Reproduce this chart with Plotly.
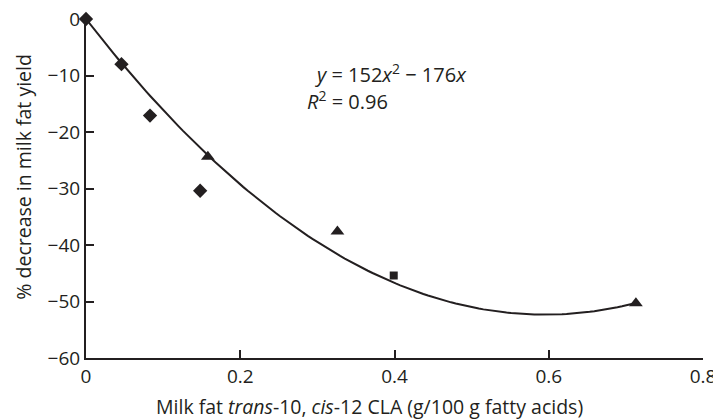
import numpy as np
import plotly.graph_objects as go

# points, grouped by marker
diamond_x = [0.0, 0.046, 0.083, 0.148]
diamond_y = [0.0, -8.0, -17.1, -30.4]
triangle_x = [0.158, 0.326, 0.713]
triangle_y = [-24.4, -37.6, -50.3]
square_x = [0.399]
square_y = [-45.4]

# quadratic trend through the origin, as drawn
trend_a = 148
trend_b = -176
trend_end = 0.713

ink = "#231f20"
font = "Open Sans"

xs = np.linspace(0, trend_end, 120)
ys = trend_a * xs ** 2 + trend_b * xs

fig = go.Figure()
fig.add_trace(go.Scatter(x=xs, y=ys, mode="lines",
                         line=dict(color=ink, width=2), hoverinfo="skip"))
fig.add_trace(go.Scatter(x=diamond_x, y=diamond_y, mode="markers",
                         marker=dict(symbol="diamond", size=11, color=ink), cliponaxis=False))
fig.add_trace(go.Scatter(x=triangle_x, y=triangle_y, mode="markers",
                         marker=dict(symbol="triangle-up", size=12, color=ink), cliponaxis=False))
fig.add_trace(go.Scatter(x=square_x, y=square_y, mode="markers",
                         marker=dict(symbol="square", size=8, color=ink), cliponaxis=False))

# page body adds an 8px offset, so the figure is sized to end at the window edge
fig.update_layout(
    width=713, height=412,
    margin=dict(l=78, r=18, t=11, b=62),
    paper_bgcolor="white", plot_bgcolor="white",
    showlegend=False,
    font=dict(family=font, size=19, color=ink),
)
fig.update_xaxes(
    range=[0, 0.8], tickvals=[0, 0.2, 0.4, 0.6, 0.8], ticktext=["0", "0.2", "0.4", "0.6", "0.8"],
    showgrid=False, zeroline=False, showline=True, linecolor=ink, linewidth=2,
    ticks="inside", ticklen=8, tickwidth=1.5, tickcolor=ink, automargin=False,
    ticklabeloverflow="allow",
)
fig.update_yaxes(
    range=[-60, 0], tickvals=[0, -10, -20, -30, -40, -50, -60],
    showgrid=False, zeroline=False, showline=True, linecolor=ink, linewidth=2,
    ticks="inside", ticklen=8, tickwidth=1.5, tickcolor=ink, automargin=False,
    ticklabeloverflow="allow",
)

fig.add_annotation(text="% decrease in milk fat yield", xref="paper", yref="paper",
                   x=-0.101, y=0.534, textangle=-90, showarrow=False,
                   xanchor="center", yanchor="middle", font=dict(size=19.5))
fig.add_annotation(text="Milk fat <i>trans</i>-10, <i>cis</i>-12 CLA (g/100 g fatty acids)",
                   xref="paper", yref="paper", x=0.46, y=-0.142, showarrow=False,
                   xanchor="center", yanchor="middle", font=dict(size=19.5))
fig.add_annotation(text="<i>y</i> = 152<i>x</i><sup>2</sup> − 176<i>x</i>", x=0.294, y=-9.6,
                   showarrow=False, xanchor="left", yanchor="middle", font=dict(size=20))
fig.add_annotation(text="<i>R</i><sup>2</sup> = 0.96", x=0.284, y=-14.5,
                   showarrow=False, xanchor="left", yanchor="middle", font=dict(size=20))

fig.write_html("out.html")
